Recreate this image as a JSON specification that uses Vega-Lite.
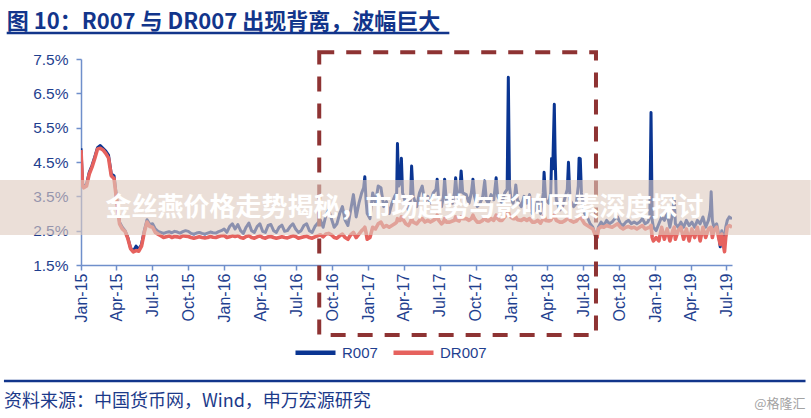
{
  "$schema": "https://vega.github.io/schema/vega-lite/v6.json",
  "autosize": {"type": "none"},
  "width": 651,
  "height": 206,
  "padding": {"left": 81, "top": 59, "right": 79, "bottom": 153},
  "background": "white",
  "config": {"view": {"stroke": null}, "font": "Liberation Sans", "axis": {"labelOverlap": false, "labelFlush": false, "labelBound": false}},
  "data": {"values": [
    {"d":"2015-01-01","r":4.9,"dr":4.85},{"d":"2015-01-05","r":3.85,"dr":3.8},{"d":"2015-01-08","r":3.8,"dr":3.75},{"d":"2015-01-15","r":3.85,"dr":3.8},{"d":"2015-01-22","r":4.2,"dr":4.15},{"d":"2015-01-29","r":4.4,"dr":4.35},
    {"d":"2015-02-05","r":4.65,"dr":4.6},{"d":"2015-02-12","r":4.92,"dr":4.88},{"d":"2015-02-19","r":4.98,"dr":4.9},{"d":"2015-02-26","r":4.9,"dr":4.85},
    {"d":"2015-03-05","r":4.82,"dr":4.75},{"d":"2015-03-12","r":4.7,"dr":4.62},{"d":"2015-03-19","r":4.15,"dr":4.1},{"d":"2015-03-26","r":4.1,"dr":4.02},
    {"d":"2015-04-02","r":3.4,"dr":3.35},{"d":"2015-04-09","r":2.75,"dr":2.7},{"d":"2015-04-16","r":2.6,"dr":2.55},{"d":"2015-04-23","r":2.5,"dr":2.48},{"d":"2015-04-30","r":2.3,"dr":2.28},
    {"d":"2015-05-07","r":2.0,"dr":1.98},{"d":"2015-05-14","r":1.9,"dr":1.88},{"d":"2015-05-21","r":2.05,"dr":1.92},{"d":"2015-05-28","r":1.95,"dr":1.9},
    {"d":"2015-06-04","r":2.1,"dr":2.05},{"d":"2015-06-11","r":2.5,"dr":2.45},{"d":"2015-06-18","r":2.82,"dr":2.75},{"d":"2015-06-25","r":2.68,"dr":2.62},
    {"d":"2015-07-02","r":2.7,"dr":2.6},{"d":"2015-07-09","r":2.55,"dr":2.45},{"d":"2015-07-16","r":2.48,"dr":2.4},{"d":"2015-07-23","r":2.45,"dr":2.35},{"d":"2015-07-30","r":2.42,"dr":2.3},
    {"d":"2015-08-06","r":2.45,"dr":2.32},{"d":"2015-08-13","r":2.47,"dr":2.35},{"d":"2015-08-20","r":2.44,"dr":2.3},{"d":"2015-08-27","r":2.48,"dr":2.33},
    {"d":"2015-09-03","r":2.46,"dr":2.32},{"d":"2015-09-10","r":2.43,"dr":2.3},{"d":"2015-09-17","r":2.47,"dr":2.35},{"d":"2015-09-24","r":2.5,"dr":2.34},
    {"d":"2015-10-01","r":2.48,"dr":2.33},{"d":"2015-10-08","r":2.42,"dr":2.3},{"d":"2015-10-15","r":2.4,"dr":2.28},{"d":"2015-10-22","r":2.43,"dr":2.3},{"d":"2015-10-29","r":2.45,"dr":2.32},
    {"d":"2015-11-05","r":2.42,"dr":2.3},{"d":"2015-11-12","r":2.4,"dr":2.29},{"d":"2015-11-19","r":2.43,"dr":2.3},{"d":"2015-11-26","r":2.46,"dr":2.33},
    {"d":"2015-12-03","r":2.44,"dr":2.31},{"d":"2015-12-10","r":2.43,"dr":2.3},{"d":"2015-12-17","r":2.47,"dr":2.33},{"d":"2015-12-24","r":2.5,"dr":2.35},{"d":"2015-12-31","r":2.55,"dr":2.36},
    {"d":"2016-01-07","r":2.45,"dr":2.3},{"d":"2016-01-14","r":2.62,"dr":2.32},{"d":"2016-01-21","r":2.7,"dr":2.35},{"d":"2016-01-28","r":2.55,"dr":2.33},
    {"d":"2016-02-04","r":2.68,"dr":2.35},{"d":"2016-02-11","r":2.5,"dr":2.3},{"d":"2016-02-18","r":2.42,"dr":2.28},{"d":"2016-02-25","r":2.6,"dr":2.33},
    {"d":"2016-03-03","r":2.72,"dr":2.35},{"d":"2016-03-10","r":2.5,"dr":2.3},{"d":"2016-03-17","r":2.45,"dr":2.28},{"d":"2016-03-24","r":2.62,"dr":2.32},{"d":"2016-03-31","r":2.7,"dr":2.35},
    {"d":"2016-04-07","r":2.48,"dr":2.3},{"d":"2016-04-14","r":2.45,"dr":2.28},{"d":"2016-04-21","r":2.65,"dr":2.32},{"d":"2016-04-28","r":2.68,"dr":2.33},
    {"d":"2016-05-05","r":2.5,"dr":2.3},{"d":"2016-05-12","r":2.45,"dr":2.28},{"d":"2016-05-19","r":2.6,"dr":2.3},{"d":"2016-05-26","r":2.66,"dr":2.32},
    {"d":"2016-06-02","r":2.48,"dr":2.3},{"d":"2016-06-09","r":2.5,"dr":2.29},{"d":"2016-06-16","r":2.62,"dr":2.32},{"d":"2016-06-23","r":2.7,"dr":2.35},{"d":"2016-06-30","r":2.55,"dr":2.33},
    {"d":"2016-07-07","r":2.45,"dr":2.28},{"d":"2016-07-14","r":2.5,"dr":2.3},{"d":"2016-07-21","r":2.65,"dr":2.32},{"d":"2016-07-28","r":2.7,"dr":2.34},
    {"d":"2016-08-04","r":2.5,"dr":2.3},{"d":"2016-08-11","r":2.45,"dr":2.28},{"d":"2016-08-18","r":2.62,"dr":2.32},{"d":"2016-08-25","r":2.72,"dr":2.35},
    {"d":"2016-09-01","r":2.8,"dr":2.38},{"d":"2016-09-08","r":2.6,"dr":2.32},{"d":"2016-09-15","r":2.95,"dr":2.4},{"d":"2016-09-22","r":3.1,"dr":2.42},{"d":"2016-09-29","r":2.85,"dr":2.38},
    {"d":"2016-10-06","r":2.6,"dr":2.3},{"d":"2016-10-13","r":2.7,"dr":2.28},{"d":"2016-10-20","r":3.0,"dr":2.35},{"d":"2016-10-27","r":3.2,"dr":2.4},
    {"d":"2016-11-03","r":2.8,"dr":2.3},{"d":"2016-11-10","r":2.65,"dr":2.25},{"d":"2016-11-17","r":3.1,"dr":2.38},{"d":"2016-11-24","r":3.55,"dr":2.45},
    {"d":"2016-12-01","r":2.9,"dr":2.3},{"d":"2016-12-08","r":3.3,"dr":2.4},{"d":"2016-12-15","r":3.6,"dr":2.5},{"d":"2016-12-20","r":3.75,"dr":2.55},{"d":"2016-12-23","r":4.07,"dr":2.6},{"d":"2016-12-26","r":3.4,"dr":2.45},{"d":"2016-12-29","r":3.0,"dr":2.25},
    {"d":"2017-01-05","r":2.85,"dr":2.3},{"d":"2017-01-12","r":3.6,"dr":2.6},{"d":"2017-01-19","r":3.3,"dr":2.55},{"d":"2017-01-26","r":3.8,"dr":2.7},
    {"d":"2017-02-02","r":3.75,"dr":2.75},{"d":"2017-02-09","r":3.2,"dr":2.6},{"d":"2017-02-16","r":3.35,"dr":2.65},{"d":"2017-02-23","r":3.0,"dr":2.6},
    {"d":"2017-03-02","r":3.3,"dr":2.65},{"d":"2017-03-09","r":3.5,"dr":2.7},{"d":"2017-03-14","r":3.6,"dr":2.75},{"d":"2017-03-16","r":5.04,"dr":2.85},{"d":"2017-03-19","r":3.8,"dr":2.8},{"d":"2017-03-23","r":3.9,"dr":2.8},{"d":"2017-03-26","r":4.61,"dr":2.9},{"d":"2017-03-29","r":3.6,"dr":2.85},
    {"d":"2017-04-06","r":3.3,"dr":2.7},{"d":"2017-04-13","r":3.1,"dr":2.65},{"d":"2017-04-18","r":3.4,"dr":2.75},{"d":"2017-04-21","r":4.38,"dr":2.85},{"d":"2017-04-25","r":3.5,"dr":2.75},
    {"d":"2017-05-04","r":3.2,"dr":2.7},{"d":"2017-05-11","r":3.6,"dr":2.8},{"d":"2017-05-18","r":3.8,"dr":2.85},{"d":"2017-05-25","r":3.3,"dr":2.75},
    {"d":"2017-06-01","r":3.5,"dr":2.8},{"d":"2017-06-08","r":3.3,"dr":2.75},{"d":"2017-06-15","r":3.6,"dr":2.8},{"d":"2017-06-22","r":3.7,"dr":2.85},{"d":"2017-06-25","r":4.0,"dr":2.95},{"d":"2017-06-29","r":3.4,"dr":2.8},
    {"d":"2017-07-06","r":3.2,"dr":2.7},{"d":"2017-07-11","r":3.5,"dr":2.75},{"d":"2017-07-14","r":4.0,"dr":2.85},{"d":"2017-07-18","r":3.4,"dr":2.75},{"d":"2017-07-27","r":3.3,"dr":2.75},
    {"d":"2017-08-03","r":3.3,"dr":2.78},{"d":"2017-08-08","r":3.6,"dr":2.8},{"d":"2017-08-11","r":4.04,"dr":2.9},{"d":"2017-08-15","r":3.5,"dr":2.8},{"d":"2017-08-20","r":3.4,"dr":2.78},{"d":"2017-08-25","r":4.24,"dr":2.9},{"d":"2017-08-29","r":3.6,"dr":2.85},
    {"d":"2017-09-07","r":3.55,"dr":2.85},{"d":"2017-09-14","r":3.3,"dr":2.8},{"d":"2017-09-20","r":3.6,"dr":2.85},{"d":"2017-09-24","r":4.0,"dr":2.95},{"d":"2017-09-28","r":3.5,"dr":2.85},
    {"d":"2017-10-05","r":3.2,"dr":2.75},{"d":"2017-10-12","r":3.3,"dr":2.75},{"d":"2017-10-19","r":3.5,"dr":2.8},{"d":"2017-10-24","r":3.95,"dr":2.9},{"d":"2017-10-28","r":3.4,"dr":2.8},
    {"d":"2017-11-02","r":3.3,"dr":2.78},{"d":"2017-11-09","r":3.55,"dr":2.85},{"d":"2017-11-16","r":3.4,"dr":2.8},{"d":"2017-11-22","r":4.04,"dr":2.95},{"d":"2017-11-26","r":3.5,"dr":2.85},
    {"d":"2017-12-01","r":3.4,"dr":2.8},{"d":"2017-12-07","r":3.3,"dr":2.8},{"d":"2017-12-14","r":3.6,"dr":2.9},{"d":"2017-12-20","r":3.7,"dr":3.0},{"d":"2017-12-23","r":6.97,"dr":3.05},{"d":"2017-12-26","r":3.8,"dr":2.95},{"d":"2017-12-29","r":3.5,"dr":2.9},
    {"d":"2018-01-04","r":3.3,"dr":2.85},{"d":"2018-01-08","r":3.5,"dr":2.85},{"d":"2018-01-11","r":3.83,"dr":2.9},{"d":"2018-01-15","r":3.4,"dr":2.82},{"d":"2018-01-25","r":3.2,"dr":2.8},
    {"d":"2018-02-01","r":3.5,"dr":2.85},{"d":"2018-02-08","r":3.3,"dr":2.8},{"d":"2018-02-15","r":3.55,"dr":2.85},{"d":"2018-02-22","r":3.0,"dr":2.75},
    {"d":"2018-03-01","r":3.1,"dr":2.75},{"d":"2018-03-08","r":3.4,"dr":2.8},{"d":"2018-03-15","r":3.0,"dr":2.72},{"d":"2018-03-22","r":3.6,"dr":2.85},{"d":"2018-03-24","r":4.2,"dr":2.95},{"d":"2018-03-28","r":3.4,"dr":2.8},
    {"d":"2018-04-05","r":3.3,"dr":2.78},{"d":"2018-04-10","r":3.6,"dr":2.8},{"d":"2018-04-12","r":4.6,"dr":2.85},{"d":"2018-04-15","r":4.3,"dr":2.9},{"d":"2018-04-19","r":6.18,"dr":2.95},{"d":"2018-04-21","r":4.75,"dr":2.9},{"d":"2018-04-24","r":3.4,"dr":2.8},
    {"d":"2018-05-03","r":3.1,"dr":2.75},{"d":"2018-05-10","r":3.2,"dr":2.75},{"d":"2018-05-17","r":3.5,"dr":2.8},{"d":"2018-05-22","r":3.7,"dr":2.85},{"d":"2018-05-25","r":4.49,"dr":2.9},{"d":"2018-05-29","r":3.4,"dr":2.8},
    {"d":"2018-06-07","r":3.2,"dr":2.75},{"d":"2018-06-14","r":3.3,"dr":2.78},{"d":"2018-06-19","r":3.8,"dr":2.85},{"d":"2018-06-21","r":4.61,"dr":2.9},{"d":"2018-06-24","r":4.6,"dr":2.9},{"d":"2018-06-27","r":3.6,"dr":2.85},
    {"d":"2018-07-05","r":3.0,"dr":2.7},{"d":"2018-07-12","r":2.9,"dr":2.65},{"d":"2018-07-19","r":2.7,"dr":2.6},{"d":"2018-07-26","r":2.6,"dr":2.55},
    {"d":"2018-08-02","r":2.35,"dr":2.35},{"d":"2018-08-06","r":2.3,"dr":2.32},{"d":"2018-08-09","r":2.6,"dr":2.55},{"d":"2018-08-16","r":2.75,"dr":2.62},{"d":"2018-08-23","r":2.65,"dr":2.6},{"d":"2018-08-30","r":2.8,"dr":2.65},
    {"d":"2018-09-06","r":2.7,"dr":2.62},{"d":"2018-09-13","r":2.75,"dr":2.6},{"d":"2018-09-20","r":2.85,"dr":2.65},{"d":"2018-09-27","r":2.9,"dr":2.7},
    {"d":"2018-10-04","r":2.7,"dr":2.6},{"d":"2018-10-11","r":2.65,"dr":2.55},{"d":"2018-10-18","r":2.75,"dr":2.6},{"d":"2018-10-25","r":2.8,"dr":2.62},
    {"d":"2018-11-01","r":2.7,"dr":2.58},{"d":"2018-11-08","r":2.75,"dr":2.6},{"d":"2018-11-15","r":2.7,"dr":2.55},{"d":"2018-11-22","r":2.75,"dr":2.6},{"d":"2018-11-29","r":2.85,"dr":2.65},
    {"d":"2018-12-06","r":2.7,"dr":2.55},{"d":"2018-12-13","r":2.75,"dr":2.58},{"d":"2018-12-18","r":2.9,"dr":2.6},{"d":"2018-12-21","r":5.94,"dr":2.65},{"d":"2018-12-24","r":2.8,"dr":2.3},{"d":"2018-12-27","r":2.6,"dr":2.2},
    {"d":"2019-01-03","r":2.5,"dr":2.3},{"d":"2019-01-10","r":2.7,"dr":2.2},{"d":"2019-01-17","r":2.9,"dr":2.6},{"d":"2019-01-24","r":2.8,"dr":2.25},{"d":"2019-01-31","r":3.0,"dr":2.55},
    {"d":"2019-02-07","r":2.6,"dr":2.2},{"d":"2019-02-14","r":3.0,"dr":2.5},{"d":"2019-02-18","r":3.49,"dr":2.6},{"d":"2019-02-21","r":2.7,"dr":2.25},{"d":"2019-02-28","r":2.6,"dr":2.5},
    {"d":"2019-03-07","r":2.75,"dr":2.6},{"d":"2019-03-14","r":2.6,"dr":2.25},{"d":"2019-03-21","r":2.8,"dr":2.55},{"d":"2019-03-28","r":2.65,"dr":2.2},
    {"d":"2019-04-04","r":2.75,"dr":2.55},{"d":"2019-04-11","r":2.6,"dr":2.3},{"d":"2019-04-18","r":2.8,"dr":2.6},{"d":"2019-04-25","r":2.7,"dr":2.2},
    {"d":"2019-05-02","r":2.9,"dr":2.6},{"d":"2019-05-09","r":2.6,"dr":2.3},{"d":"2019-05-16","r":2.8,"dr":2.55},{"d":"2019-05-21","r":3.1,"dr":2.6},{"d":"2019-05-23","r":3.63,"dr":2.6},{"d":"2019-05-26","r":2.8,"dr":2.3},{"d":"2019-05-30","r":2.6,"dr":2.5},
    {"d":"2019-06-06","r":2.7,"dr":2.6},{"d":"2019-06-11","r":2.4,"dr":2.3},{"d":"2019-06-15","r":2.03,"dr":2.1},{"d":"2019-06-19","r":2.5,"dr":2.4},{"d":"2019-06-23","r":2.3,"dr":2.1},{"d":"2019-06-26","r":2.2,"dr":1.89},{"d":"2019-06-29","r":2.6,"dr":2.3},
    {"d":"2019-07-03","r":2.8,"dr":2.6},{"d":"2019-07-08","r":2.9,"dr":2.65},{"d":"2019-07-15","r":2.85,"dr":2.6}
  ]},
  "layer": [
    {
      "mark": {"type": "line", "strokeWidth": 3, "strokeJoin": "round", "clip": true},
      "encoding": {
        "x": {"field": "d", "type": "temporal", "title": null,
          "scale": {"type": "utc", "domain": [{"year": 2015, "month": 1, "date": 1, "utc": true}, {"year": 2019, "month": 7, "date": 15, "utc": true}], "nice": false},
          "axis": {"labelExpr": "utcFormat(datum.value, '%b-%y')", "tickCount": {"interval": "month", "step": 3}, "labelAngle": -90, "labelFontSize": 16, "labelColor": "#1f3f8f", "labelFont": "Liberation Sans", "labelPadding": 3, "tickSize": 5, "tickColor": "#6f8fcb", "domainColor": "#6f8fcb", "domainWidth": 1.5, "tickWidth": 1.5, "grid": false, "labelFlush": false, "labelOverlap": false, "labelBound": false}},
        "y": {"field": "r", "type": "quantitative", "title": null,
          "scale": {"domain": [1.5, 7.5], "nice": false, "zero": false},
          "axis": {"values": [1.5, 2.5, 3.5, 4.5, 5.5, 6.5, 7.5], "tickCount": 10, "labelExpr": "format(datum.value, '.1f') + '%'", "labelFontSize": 15.5, "labelColor": "#1f3f8f", "labelFont": "Liberation Sans", "labelPadding": 8, "tickSize": 5, "tickColor": "#6f8fcb", "domainColor": "#6f8fcb", "domainWidth": 1.5, "tickWidth": 1.5, "grid": false, "labelOverlap": false, "labelFlush": false, "labelBound": false}},
        "color": {"datum": "R007", "type": "nominal",
          "scale": {"domain": ["R007", "DR007"], "range": ["#0a3592", "#e6625e"]},
          "legend": {"title": null, "orient": "none", "legendX": 212, "legendY": 271, "direction": "horizontal", "symbolType": "stroke", "symbolSize": 1600, "symbolStrokeWidth": 4.5, "labelFontSize": 15, "labelFont": "Liberation Sans", "labelColor": "#1f3f8f", "labelOffset": 4, "columnPadding": 6, "padding": 0}}
      }
    },
    {
      "mark": {"type": "line", "strokeWidth": 3.6, "strokeJoin": "round", "clip": true},
      "encoding": {
        "x": {"field": "d", "type": "temporal", "title": null},
        "y": {"field": "dr", "type": "quantitative", "title": null},
        "color": {"datum": "DR007", "type": "nominal"}
      }
    },
    {
      "data": {"values": [{}]},
      "mark": {"type": "rect", "filled": false, "stroke": "#8e3333", "strokeWidth": 4, "strokeDash": [15, 12], "clip": false},
      "encoding": {
        "x": {"datum": {"year": 2016, "month": 8, "date": 29, "utc": true}, "type": "temporal", "title": null},
        "x2": {"datum": {"year": 2018, "month": 8, "date": 3, "utc": true}},
        "y": {"datum": 7.7, "type": "quantitative", "title": null},
        "y2": {"datum": -0.54}
      }
    },
    {
      "data": {"values": [{}]},
      "mark": {"type": "rect", "fill": "#decbbf", "fillOpacity": 0.61, "clip": false},
      "encoding": {
        "x": {"datum": {"year": 2014, "month": 6, "date": 6, "utc": true}, "type": "temporal", "title": null},
        "x2": {"datum": {"year": 2020, "month": 1, "date": 31, "utc": true}},
        "y": {"datum": 3.975, "type": "quantitative", "title": null},
        "y2": {"datum": 2.373}
      }
    },
    {
      "data": {"values": [{}]},
      "mark": {"type": "text", "text": "金丝燕价格走势揭秘，市场趋势与影响因素深度探讨", "font": "Noto Sans CJK SC", "fontWeight": "bold", "fontSize": 26, "fill": "#ffffff", "align": "center", "baseline": "middle", "clip": false},
      "encoding": {
        "x": {"datum": {"year": 2017, "month": 4, "date": 3, "utc": true}, "type": "temporal", "title": null},
        "y": {"datum": 3.16, "type": "quantitative", "title": null}
      }
    },
    {
      "data": {"values": [{}]},
      "mark": {"type": "text", "text": "图 10：R007 与 DR007 出现背离，波幅巨大", "font": "Noto Sans CJK SC", "fontWeight": "bold", "fontSize": 22, "fill": "#12358b", "align": "left", "baseline": "middle", "clip": false},
      "encoding": {
        "x": {"datum": {"year": 2014, "month": 6, "date": 26, "utc": true}, "type": "temporal", "title": null},
        "y": {"datum": 8.58, "type": "quantitative", "title": null}
      }
    },
    {
      "data": {"values": [{}]},
      "mark": {"type": "rule", "stroke": "#12358b", "strokeWidth": 2.5, "clip": false},
      "encoding": {
        "x": {"datum": {"year": 2014, "month": 6, "date": 26, "utc": true}, "type": "temporal", "title": null},
        "x2": {"datum": {"year": 2017, "month": 7, "date": 26, "utc": true}},
        "y": {"datum": 8.257, "type": "quantitative", "title": null}
      }
    },
    {
      "data": {"values": [{}]},
      "mark": {"type": "rule", "stroke": "#12358b", "strokeWidth": 2.5, "clip": false},
      "encoding": {
        "x": {"datum": {"year": 2014, "month": 6, "date": 19, "utc": true}, "type": "temporal", "title": null},
        "x2": {"datum": {"year": 2020, "month": 1, "date": 18, "utc": true}},
        "y": {"datum": -1.879, "type": "quantitative", "title": null}
      }
    },
    {
      "data": {"values": [{}]},
      "mark": {"type": "text", "text": "资料来源：中国货币网，Wind，申万宏源研究", "font": "Noto Sans CJK SC", "fontSize": 18, "fill": "#1c3a8a", "align": "left", "baseline": "middle", "clip": false},
      "encoding": {
        "x": {"datum": {"year": 2014, "month": 6, "date": 19, "utc": true}, "type": "temporal", "title": null},
        "y": {"datum": -2.49, "type": "quantitative", "title": null}
      }
    },
    {
      "data": {"values": [{}]},
      "mark": {"type": "text", "text": "@格隆汇", "font": "Noto Sans CJK SC", "fontSize": 13, "fill": "#a3a3a3", "align": "right", "baseline": "middle", "clip": false},
      "encoding": {
        "x": {"datum": {"year": 2020, "month": 1, "date": 18, "utc": true}, "type": "temporal", "title": null},
        "y": {"datum": -2.55, "type": "quantitative", "title": null}
      }
    }
  ]
}
